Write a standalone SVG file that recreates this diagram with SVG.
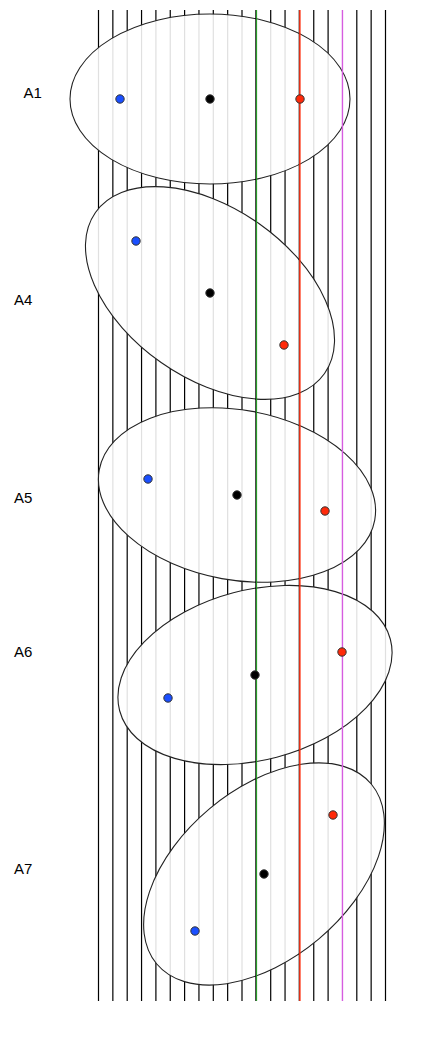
<svg xmlns="http://www.w3.org/2000/svg" width="438" height="1040" viewBox="0 0 438 1040">
<style>
.bg{stroke:#000;stroke-width:1.2}
.ell{fill:#fff;fill-opacity:0.88;stroke:#222;stroke-width:1.1}
.lbl{font-family:"Liberation Sans",Arial,sans-serif;font-size:15px;fill:#000}
.dot{stroke:#333;stroke-width:1}
.b{fill:#1a4fff}.k{fill:#000}.r{fill:#ff2a0a}
</style>
<g id="grid" class="bg">
<line x1="98.5" y1="10" x2="98.5" y2="1001"/>
<line x1="112.85" y1="10" x2="112.85" y2="1001"/>
<line x1="127.2" y1="10" x2="127.2" y2="1001"/>
<line x1="141.55" y1="10" x2="141.55" y2="1001"/>
<line x1="155.9" y1="10" x2="155.9" y2="1001"/>
<line x1="170.25" y1="10" x2="170.25" y2="1001"/>
<line x1="184.6" y1="10" x2="184.6" y2="1001"/>
<line x1="198.95" y1="10" x2="198.95" y2="1001"/>
<line x1="213.3" y1="10" x2="213.3" y2="1001"/>
<line x1="227.65" y1="10" x2="227.65" y2="1001"/>
<line x1="242" y1="10" x2="242" y2="1001"/>
<line x1="270.7" y1="10" x2="270.7" y2="1001"/>
<line x1="285.05" y1="10" x2="285.05" y2="1001"/>
<line x1="313.75" y1="10" x2="313.75" y2="1001"/>
<line x1="328.1" y1="10" x2="328.1" y2="1001"/>
<line x1="356.8" y1="10" x2="356.8" y2="1001"/>
<line x1="371.15" y1="10" x2="371.15" y2="1001"/>
<line x1="385.5" y1="10" x2="385.5" y2="1001"/>
</g>
<g id="A1">
<ellipse class="ell" cx="210" cy="99" rx="140" ry="85"/>
<text class="lbl" x="23.5" y="97.5">A1</text>
</g>
<g id="A4">
<ellipse class="ell" cx="210" cy="293" rx="140" ry="85" transform="rotate(35.1 210 293)"/>
<text class="lbl" x="14" y="305">A4</text>
</g>
<g id="A5">
<ellipse class="ell" cx="237" cy="495" rx="140" ry="85" transform="rotate(10.3 237 495)"/>
<text class="lbl" x="14" y="503">A5</text>
</g>
<g id="A6">
<ellipse class="ell" cx="255" cy="675" rx="140" ry="85" transform="rotate(-14.8 255 675)"/>
<text class="lbl" x="14" y="657">A6</text>
</g>
<g id="A7">
<ellipse class="ell" cx="264" cy="874" rx="140" ry="85" transform="rotate(-40 264 874)"/>
<text class="lbl" x="14" y="874">A7</text>
</g>
<g id="connectors">
<line x1="255.8" y1="10" x2="255.8" y2="1001" stroke="#000" stroke-width="1"/>
<line x1="256.6" y1="10" x2="256.6" y2="1001" stroke="#1a9a1a" stroke-width="1"/>
<line x1="299.2" y1="10" x2="299.2" y2="1001" stroke="#000" stroke-width="1"/>
<line x1="299.9" y1="10" x2="299.9" y2="1001" stroke="#ff2a0a" stroke-width="1.4"/>
<line x1="342.45" y1="10" x2="342.45" y2="1001" stroke="#d65ce0" stroke-width="1.4"/>
</g>
<g id="dots">
<circle class="dot b" cx="120" cy="99" r="4.2"/>
<circle class="dot k" cx="210" cy="99" r="4.2"/>
<circle class="dot r" cx="300" cy="99" r="4.2"/>
<circle class="dot b" cx="136" cy="241" r="4.2"/>
<circle class="dot k" cx="210" cy="293" r="4.2"/>
<circle class="dot r" cx="284" cy="345" r="4.2"/>
<circle class="dot b" cx="148" cy="479" r="4.2"/>
<circle class="dot k" cx="237" cy="495" r="4.2"/>
<circle class="dot r" cx="325" cy="511" r="4.2"/>
<circle class="dot b" cx="168" cy="698" r="4.2"/>
<circle class="dot k" cx="255" cy="675" r="4.2"/>
<circle class="dot r" cx="342" cy="652" r="4.2"/>
<circle class="dot b" cx="195" cy="931" r="4.2"/>
<circle class="dot k" cx="264" cy="874" r="4.2"/>
<circle class="dot r" cx="333" cy="815" r="4.2"/>
</g>
</svg>
